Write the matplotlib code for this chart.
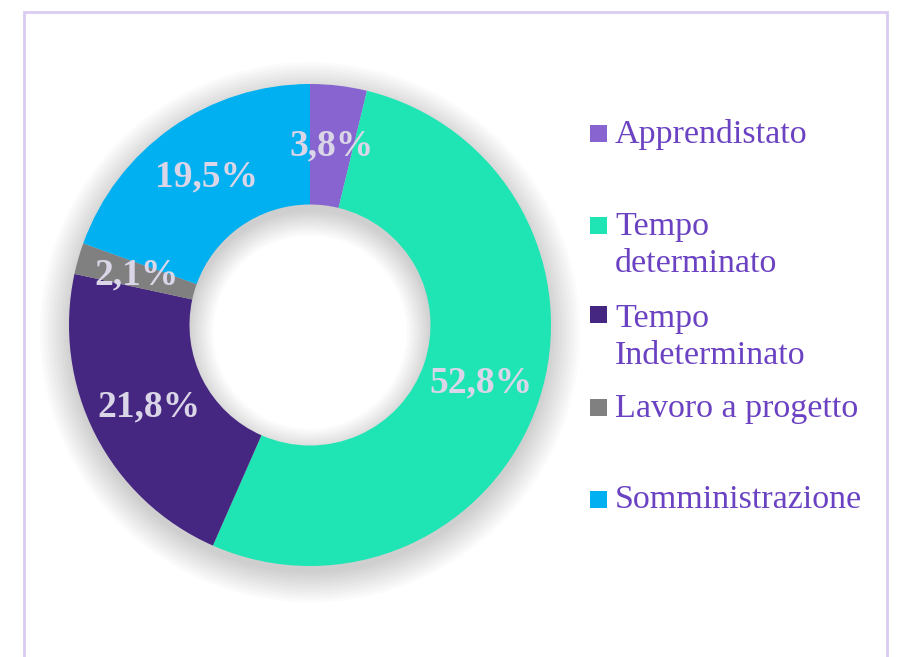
import matplotlib
matplotlib.use("Agg")
import matplotlib.pyplot as plt
from matplotlib.patches import Wedge, Rectangle

# dati del grafico
categorie = ["Apprendistato", "Tempo\ndeterminato", "Tempo\nIndeterminato",
             "Lavoro a progetto", "Somministrazione"]
percentuali = [3.8, 52.8, 21.8, 2.1, 19.5]
colori = ["#8764CF", "#1FE5B5", "#452681", "#808080", "#00B0F0"]

W, H = 899, 657
fig = plt.figure(figsize=(W / 100, H / 100), dpi=100)

# cornice esterna
fig.patches.append(Rectangle((24 / W, -0.05), (887 - 24) / W, 1.05 - 12 / H,
                             transform=fig.transFigure, fill=False,
                             edgecolor="#D9CCF0", linewidth=2))

cx, cy, r = 310, 325, 241
ax = fig.add_axes([(cx - r) / W, 1 - (cy + r) / H, 2 * r / W, 2 * r / H])
ax.axis("off")

# ombra sfumata sotto l'anello
for i in range(12):
    ax.add_patch(Wedge((0, -0.03), 1.0 + i * 0.011, 0, 360,
                       width=0.5 + i * 0.02, facecolor="#000000",
                       alpha=0.014, linewidth=0, clip_on=False))

def fmt(p):
    return ("%.1f%%" % p).replace(".", ",")

wedges, testi, pct = ax.pie(percentuali, colors=colori, startangle=90,
                            counterclock=False, radius=1.0,
                            wedgeprops=dict(width=0.5, linewidth=0),
                            autopct=fmt, pctdistance=0.75)
for t in pct:
    t.set_fontfamily("Liberation Serif")
    t.set_fontweight("bold")
    t.set_fontsize(27)
    t.set_color("#DAD6E8")

# pie() reimposta i limiti: li fisso dopo
ax.set_xlim(-1, 1)
ax.set_ylim(-1, 1)

# legenda manuale
viola = "#6A42C2"
quadrati = [133, 225, 315, 407, 499]
basi = [143, 235, 327, 417, 508]
for nome, col, yq, yb in zip(categorie, colori, quadrati, basi):
    fig.patches.append(Rectangle((590 / W, 1 - (yq + 8.5) / H), 17 / W, 17 / H,
                                 transform=fig.transFigure, facecolor=col,
                                 edgecolor="none"))
    for k, riga in enumerate(nome.split("\n")):
        fig.text(615 / W, 1 - (yb + 37 * k) / H, riga, fontsize=24.5,
                 color=viola, family="Liberation Serif", va="baseline",
                 ha="left")

fig.savefig("out.png", dpi=100, facecolor="white")
